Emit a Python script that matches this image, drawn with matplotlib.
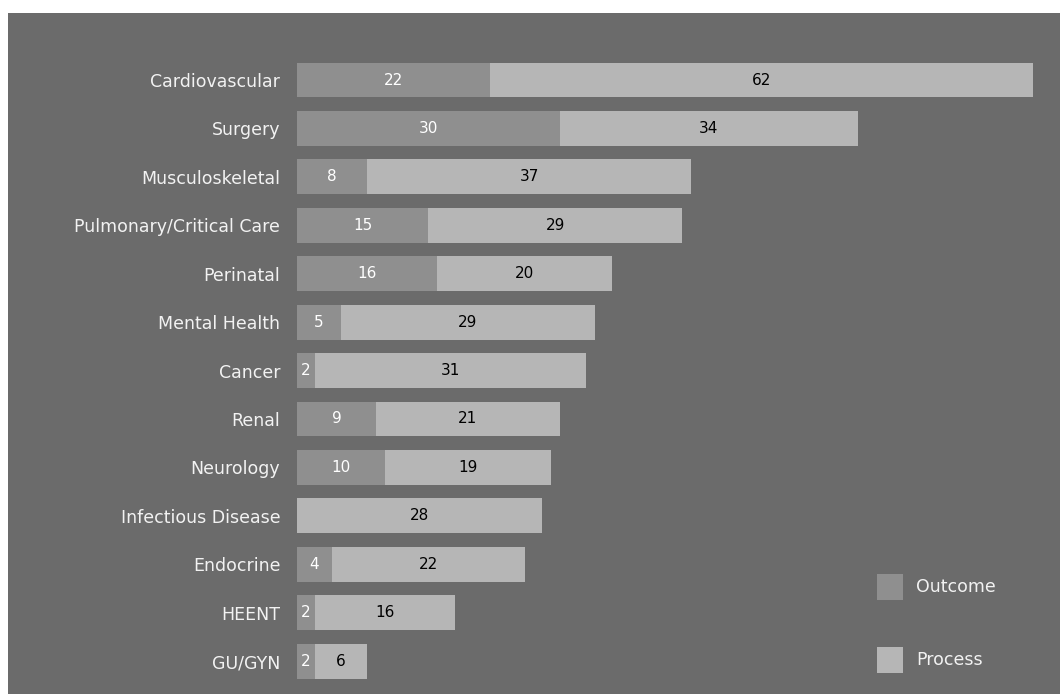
import matplotlib
matplotlib.use('Agg')
import numpy as np
from matplotlib import pyplot as plt
from matplotlib.patches import Rectangle

categories = ['Cardiovascular', 'Surgery', 'Musculoskeletal', 'Pulmonary/Critical Care',
              'Perinatal', 'Mental Health', 'Cancer', 'Renal', 'Neurology',
              'Infectious Disease', 'Endocrine', 'HEENT', 'GU/GYN']
outcome = [22, 30, 8, 15, 16, 5, 2, 9, 10, 0, 4, 2, 2]
process = [62, 34, 37, 29, 20, 29, 31, 21, 19, 28, 22, 16, 6]
series = ['Outcome', 'Process']

bg = '#6b6b6b'
c_out = '#8f8f8f'
c_proc = '#b6b6b6'
W, H = 1060, 694

fig = plt.figure(figsize=(10.6, 6.94), dpi=100, facecolor='white')
# gray panel behind everything
fig.patches.append(Rectangle((8 / W, 0), 1 - 8 / W, 1 - 13 / H,
                             transform=fig.transFigure, facecolor=bg,
                             edgecolor='none', zorder=-5))

ax = fig.add_axes([297 / W, 0, 1 - 297 / W, 1 - 13 / H])
ax.set_zorder(2)
ax.set_facecolor('none')

y = np.arange(len(categories))
ax.barh(y, outcome, height=0.72, color=c_out)
ax.barh(y, process, left=outcome, height=0.72, color=c_proc)

for i in range(len(categories)):
    if outcome[i] > 0:
        ax.text(outcome[i] / 2, y[i], str(outcome[i]), ha='center', va='center',
                color='white', fontsize=11)
    ax.text(outcome[i] + process[i] / 2, y[i], str(process[i]), ha='center',
            va='center', color='black', fontsize=11)

ax.set_xlim(0, 87.1)
ax.set_ylim(12.68, -1.385)
ax.set_yticks(y)
ax.set_yticklabels(categories, color='#f2f2f2', fontsize=12.5)
ax.tick_params(axis='y', length=0, pad=12)
ax.set_xticks([])
for s in ax.spines.values():
    s.set_visible(False)

# legend, drawn by hand: two big squares with labels
for name, col, yc in zip(series, [c_out, c_proc], [587, 660]):
    fig.patches.append(Rectangle((877 / W, 1 - (yc + 13) / H), 26 / W, 26 / H,
                                 transform=fig.transFigure, facecolor=col,
                                 edgecolor='none', zorder=3))
    fig.text(916 / W, 1 - yc / H, name, color='#f2f2f2', fontsize=12.5,
             va='center', ha='left', zorder=3)

fig.savefig('out.png', dpi=100, facecolor='white')
